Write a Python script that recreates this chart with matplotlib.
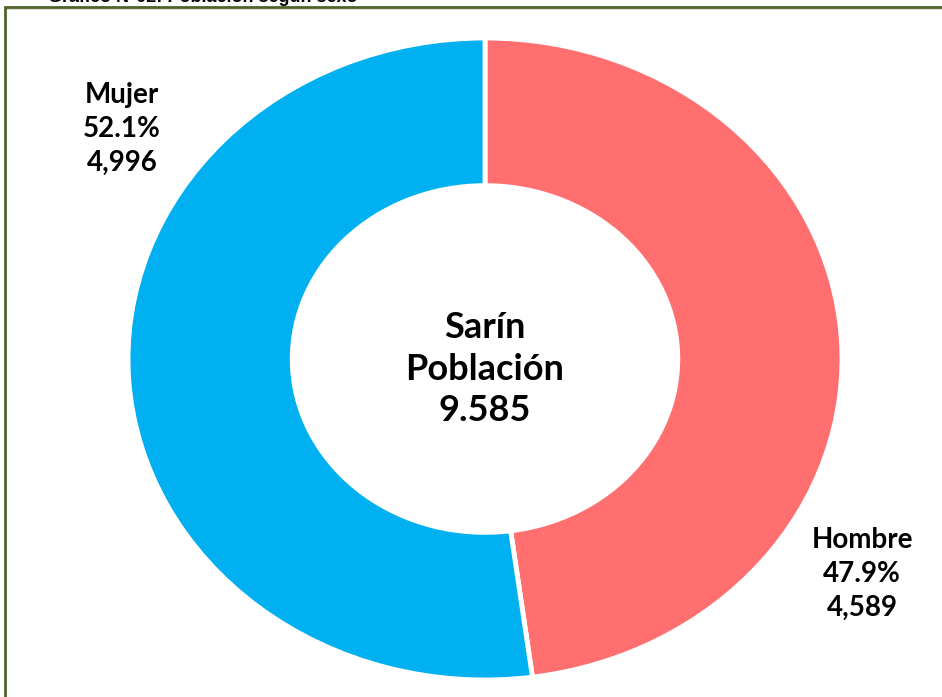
import matplotlib
matplotlib.use("Agg")
import matplotlib.pyplot as plt
from matplotlib.patches import Rectangle

categories = ["Hombre", "Mujer"]
values = [4589, 4996]
percents = ["47.9%", "52.1%"]
counts = ["4,589", "4,996"]
colors = ["#FF6F6F", "#00B0F0"]
center_lines = ["Sarín", "Población", "9.585"]
title = "Gráfico N°02: Población según sexo"

W, H = 942, 697
fig = plt.figure(figsize=(W / 100, H / 100), dpi=100)
fig.patch.set_facecolor("white")

def fx(x):
    return x / W

def fy(y):
    return 1 - y / H

# donut axes (stretched -> elliptical ring)
cx, cy, rx, ry = 485, 359, 357, 321
ax = fig.add_axes([fx(cx - rx), fy(cy + ry), 2 * rx / W, 2 * ry / H])
ax.pie(values, colors=colors, startangle=90, counterclock=False,
       wedgeprops=dict(width=0.46, edgecolor="white", linewidth=3.5))
ax.set_aspect("auto")
ax.set_xlim(-1, 1)
ax.set_ylim(-1, 1)
ax.axis("off")

font = "Lato"
fig.text(fx(cx), fy(369), "\n".join(center_lines), ha="center", va="center",
         fontsize=26, fontweight="bold", family=font, linespacing=1.32)

label_pos = {"Hombre": (862, 574), "Mujer": (122, 129)}
for cat, p, c in zip(categories, percents, counts):
    x, y = label_pos[cat]
    fig.text(fx(x), fy(y), f"{cat}\n{p}\n{c}", ha="center", va="center",
             fontsize=20, fontweight="bold", family=font, linespacing=1.38)

# border frame
fig.patches.append(Rectangle((fx(5), fy(H + 20)), 1.2, (H + 13) / H,
                             transform=fig.transFigure, fill=False,
                             edgecolor="#4F6228", linewidth=2, zorder=5))
fig.patches.append(Rectangle((fx(7), fy(10)), 1.2, 0.0015,
                             transform=fig.transFigure, facecolor="#D9D9D9",
                             edgecolor="none", zorder=4))

# clipped title
fig.text(fx(48), fy(2), title, ha="left", va="baseline", fontsize=13,
         fontweight="bold", family="Liberation Sans")

fig.savefig("out.png", dpi=100)
